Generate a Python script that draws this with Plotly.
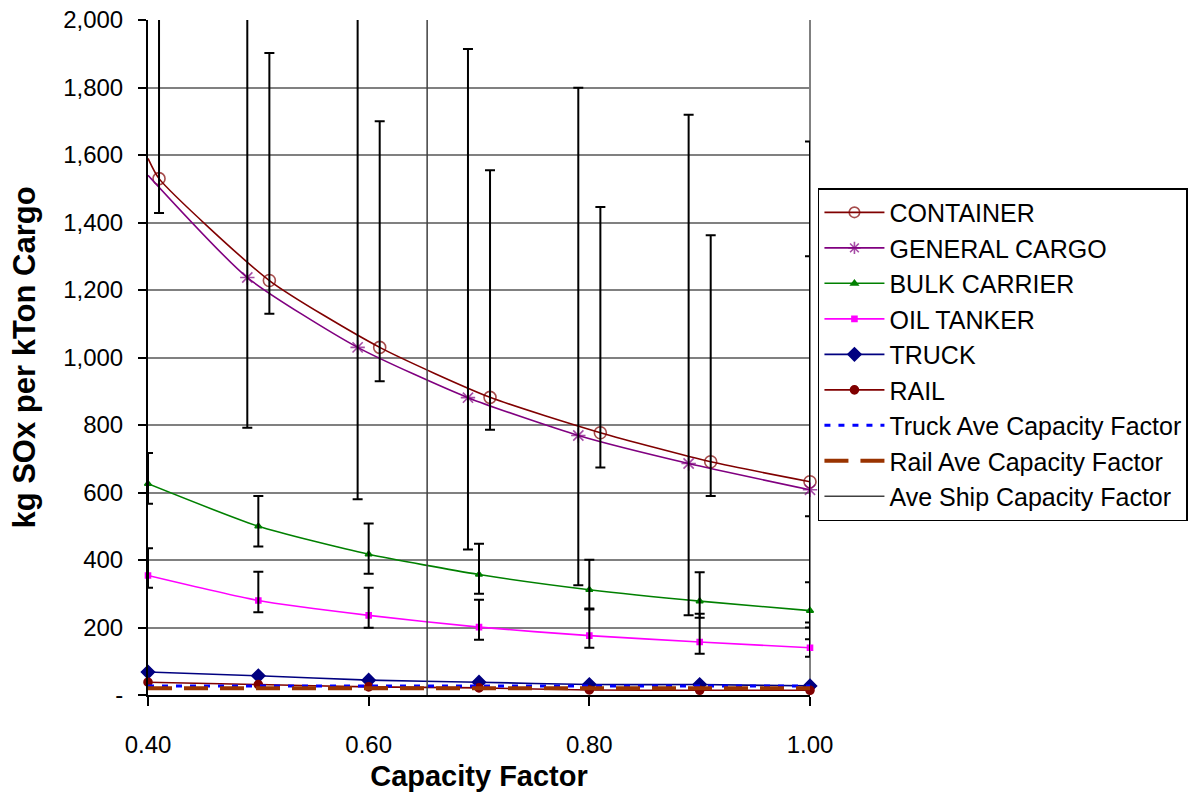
import plotly.graph_objects as go

# ---------------- data ----------------
cont_line_x = [0.40, 0.41, 0.51, 0.61, 0.71, 0.81, 0.91, 1.00]
cont_line_y = [1590, 1530, 1228, 1030, 882, 777, 691, 632]
cont_x = [0.41, 0.51, 0.61, 0.71, 0.81, 0.91, 1.00]
cont_y = [1530, 1228, 1030, 882, 777, 691, 632]
cont_hi = [2200, 1902, 1700, 1555, 1446, 1362, 1300]
cont_lo = [1428, 1130, 930, 786, 674, 590, 530]

gc_line_x = [0.40, 0.49, 0.59, 0.69, 0.79, 0.89, 1.00]
gc_line_y = [1540, 1237, 1030, 881, 769, 686, 608]
gc_x = [0.49, 0.59, 0.69, 0.79, 0.89, 1.00]
gc_y = [1237, 1030, 881, 769, 686, 608]
gc_hi = [2270, 2063, 1914, 1799, 1719, 1640]
gc_lo = [792, 580, 431, 325, 236, 165]

bulk_x = [0.40, 0.50, 0.60, 0.70, 0.80, 0.90, 1.00]
bulk_y = [626, 500, 417, 357, 312, 278, 250]
bulk_hi = [717, 590, 508, 448, 401, 364, 334]
bulk_lo = [567, 440, 359, 300, 256, 229, 200]

oil_x = [0.40, 0.50, 0.60, 0.70, 0.80, 0.90, 1.00]
oil_y = [354, 280, 236, 201, 176, 157, 140]
oil_hi = [435, 365, 318, 282, 253, 241, 215]
oil_lo = [318, 245, 199, 164, 140, 122, 113]

truck_x = [0.40, 0.50, 0.60, 0.70, 0.80, 0.90, 1.00]
truck_y = [68, 57, 44, 38, 31, 31, 27]
rail_x = [0.40, 0.50, 0.60, 0.70, 0.80, 0.90, 1.00]
rail_y = [38, 31, 24, 21, 15, 14, 14]

truck_ave_x = [0.40, 1.00]
truck_ave_y = [27, 27]
rail_ave_x = [0.40, 1.00]
rail_ave_y = [20, 20]
ship_ave_x = [0.653, 0.653]
ship_ave_y = [0, 2000]

y_ticks = [0, 200, 400, 600, 800, 1000, 1200, 1400, 1600, 1800, 2000]
y_tick_text = ["-", "200", "400", "600", "800", "1,000", "1,200", "1,400", "1,600", "1,800", "2,000"]
x_ticks = [0.40, 0.60, 0.80, 1.00]
x_tick_text = ["0.40", "0.60", "0.80", "1.00"]

FONT = "Liberation Sans, Arial, Helvetica, sans-serif"

fig = go.Figure()


def line_trace(name, x, y, color, symbol, size, sizes=None, width=1.6, group=None):
    msize = sizes if sizes is not None else size
    return go.Scatter(
        x=x, y=y, name=name, mode="lines+markers",
        line=dict(color=color, width=width, shape="spline", smoothing=0.6),
        marker=dict(symbol=symbol, size=msize, color=color,
                    line=dict(color=color, width=1.6)),
        cliponaxis=False, legendgroup=group or name,
    )


fig.add_trace(line_trace("CONTAINER", cont_line_x, cont_line_y, "#800000", "circle-open", 12,
                         sizes=[0] + [12] * len(cont_x)))
fig.add_trace(line_trace("GENERAL CARGO", gc_line_x, gc_line_y, "#800080", "asterisk-open", 12,
                         sizes=[0] + [12] * len(gc_x)))
fig.add_trace(line_trace("BULK CARRIER", bulk_x, bulk_y, "#008000", "triangle-up", 6))
fig.add_trace(line_trace("OIL TANKER", oil_x, oil_y, "#FF00FF", "square", 5))
fig.add_trace(line_trace("TRUCK", truck_x, truck_y, "#000080", "diamond", 10))
fig.add_trace(line_trace("RAIL", rail_x, rail_y, "#800000", "circle", 8))

fig.add_trace(go.Scatter(x=truck_ave_x, y=truck_ave_y, name="Truck Ave Capacity Factor",
                         mode="lines", line=dict(color="#0000FF", width=3, dash="6px,8px"),
                         legendgroup="tave"))
fig.add_trace(go.Scatter(x=rail_ave_x, y=rail_ave_y, name="Rail Ave Capacity Factor",
                         mode="lines", line=dict(color="#993300", width=4, dash="24px,12px"),
                         legendgroup="rave"))
fig.add_trace(go.Scatter(x=ship_ave_x, y=ship_ave_y, name="Ave Ship Capacity Factor",
                         mode="lines", line=dict(color="#404040", width=1.5),
                         legendgroup="save"))


def err_trace(x, y, hi, lo):
    return go.Scatter(
        x=x, y=y, mode="markers", showlegend=False, hoverinfo="skip",
        marker=dict(size=1, opacity=0),
        error_y=dict(type="data", symmetric=False,
                     array=[h - v for h, v in zip(hi, y)],
                     arrayminus=[v - l for v, l in zip(y, lo)],
                     color="#000000", thickness=2, width=5),
    )


fig.add_trace(err_trace(cont_x, cont_y, cont_hi, cont_lo))
fig.add_trace(err_trace(gc_x, gc_y, gc_hi, gc_lo))
fig.add_trace(err_trace(bulk_x, bulk_y, bulk_hi, bulk_lo))
fig.add_trace(err_trace(oil_x, oil_y, oil_hi, oil_lo))

fig.add_shape(type="line", xref="paper", yref="paper", x0=1, x1=1, y0=0, y1=1,
              line=dict(color="#808080", width=2), layer="below")

fig.update_layout(
    width=1189, height=792,
    paper_bgcolor="white", plot_bgcolor="white",
    margin=dict(l=148, r=379, t=20, b=97, autoexpand=False),
    font=dict(family=FONT, size=24, color="black"),
    showlegend=True,
    legend=dict(x=1.012, y=0.751, xanchor="left", yanchor="top",
                bordercolor="black", borderwidth=1.5, bgcolor="white",
                font=dict(size=25, family=FONT), itemwidth=60,
                tracegroupgap=0),
    xaxis=dict(range=[0.40, 1.00], tickvals=x_ticks, ticktext=x_tick_text,
               showgrid=False, zeroline=False, showline=True, linecolor="black",
               linewidth=2, ticks="outside", ticklen=9, tickwidth=2, tickcolor="black",
               ticklabelstandoff=18, automargin=False,
               title=dict(text="<b>Capacity Factor</b>", font=dict(size=29, family=FONT),
                          standoff=10)),
    yaxis=dict(range=[0, 2000], tickvals=y_ticks, ticktext=y_tick_text,
               showgrid=True, gridcolor="#808080", gridwidth=1.5, zeroline=False,
               showline=True, linecolor="black", linewidth=2,
               ticks="outside", ticklen=8, tickwidth=2, tickcolor="black",
               ticklabelstandoff=10, automargin=False,
               title=dict(text="<b>kg SOx per kTon Cargo</b>", font=dict(size=31, family=FONT),
                          standoff=18)),
)

fig.write_html("out.html")
